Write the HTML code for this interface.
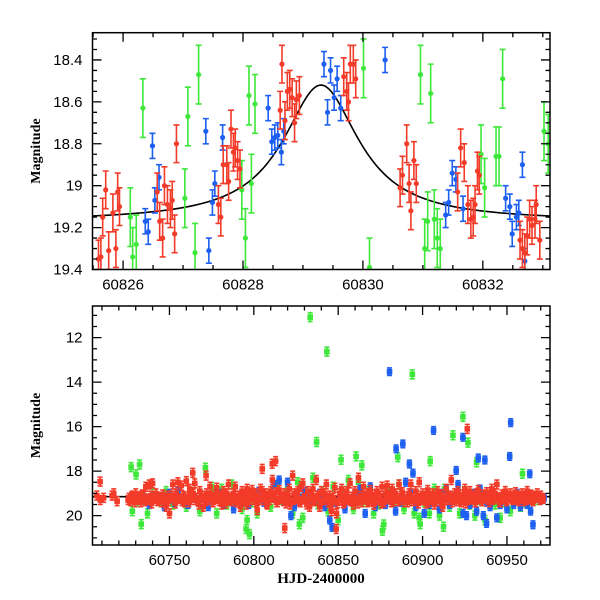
<!DOCTYPE html>
<html><head><meta charset="utf-8"><style>
body{margin:0;background:#fff}
svg{display:block}
text{font-family:"Liberation Sans",sans-serif;fill:#000}
</style></head><body>
<svg id="c" width="600" height="600" xmlns="http://www.w3.org/2000/svg"></svg>
<script>
// ---------- TOP PANEL DATA ----------
const topRedT=[60825.59,60825.63,60825.66,60825.71,60825.76,60825.83,60825.88,60825.91,60825.94,60826.57,60826.61,60826.66,60826.69,60826.74,60826.79,60826.82,60826.86,60826.89,60827.59,60827.63,60827.67,60827.73,60827.76,60827.80,60827.84,60827.87,60827.91,60827.95,60828.62,60828.65,60828.70,60828.74,60828.78,60828.82,60828.86,60828.89,60828.94,60829.68,60829.73,60829.76,60829.79,60829.84,60829.88,60830.62,60830.66,60830.73,60830.77,60830.80,60830.85,60830.89,60831.58,60831.63,60831.69,60831.75,60831.80,60831.84,60831.87,60831.91,60831.94,60832.62,60832.66,60832.70,60832.74,60832.78,60832.82,60832.87,60832.89,60832.95];
const topRedM=[19.35,19.34,19.15,19.02,19.31,19.13,19.30,19.03,19.10,19.03,19.17,19.25,19.00,19.09,19.11,19.07,19.23,18.80,19.09,19.15,18.90,18.90,18.98,18.73,18.84,18.82,18.88,18.92,18.64,18.42,18.69,18.55,18.54,18.58,18.70,18.59,18.57,18.48,18.55,18.60,18.42,18.42,18.49,19.01,18.95,18.80,18.99,19.12,18.88,18.99,19.03,18.82,18.89,19.09,19.16,19.15,19.09,18.93,18.95,19.26,19.30,19.32,19.24,19.16,19.19,19.16,19.09,19.26];
const topBlueT=[60826.37,60826.42,60826.49,60826.53,60826.60,60827.38,60827.43,60827.49,60827.53,60827.66,60828.42,60828.48,60828.53,60828.58,60828.64,60828.68,60829.35,60829.41,60829.46,60829.52,60829.57,60829.63,60830.37,60831.38,60831.43,60831.49,60831.55,60831.67,60832.38,60832.45,60832.49,60832.56,60832.60,60832.66,60832.70];
const topBlueM=[19.17,19.22,18.81,19.07,18.96,18.74,19.31,19.08,18.99,18.77,18.63,18.79,18.77,18.76,18.84,18.74,18.42,18.65,18.45,18.58,18.49,18.63,18.40,19.14,19.08,18.94,18.97,19.11,19.06,19.10,19.23,19.15,19.13,18.90,19.36];
const topGreenT=[60826.12,60826.16,60826.22,60826.33,60827.03,60827.08,60827.20,60827.26,60827.98,60828.04,60828.10,60828.14,60828.20,60830.01,60830.11,60830.96,60831.03,60831.08,60831.13,60831.19,60831.24,60831.29,60831.97,60832.03,60832.22,60832.27,60832.33,60833.02,60833.09];
const topGreenM=[19.15,19.34,19.28,18.63,19.06,18.67,19.32,18.47,19.02,19.25,18.57,18.99,18.61,18.44,19.39,18.47,19.30,19.17,18.56,19.16,19.25,19.30,18.85,19.01,18.86,18.86,18.49,18.74,18.80];
const topErr={red:0.09,blue:0.06,green:0.14};
// model curve parameters
const modelBase=19.17, modelAmp=0.65, modelT0=60829.3, modelW=0.77;
const topXTicks=[60826,60828,60830,60832];
const topYTicks=[18.4,18.6,18.8,19,19.2,19.4];
const topYLabels=["18.4","18.6","18.8","19","19.2","19.4"];

// ---------- BOTTOM PANEL DATA ----------
const botRedT=[60707,60709,60711,60716,60717,60719,60726,60727,60728,60729,60730,60731,60732,60733,60734,60735,60736,60737,60738,60739,60740,60741,60742,60743,60744,60745,60746,60747,60748,60749,60750,60751,60752,60753,60754,60755,60756,60757,60758,60759,60760,60761,60762,60763,60764,60765,60766,60767,60768,60769,60770,60771,60772,60773,60774,60775,60776,60777,60778,60779,60780,60781,60782,60783,60784,60785,60786,60787,60788,60789,60790,60791,60792,60793,60794,60795,60796,60797,60798,60799,60800,60801,60802,60803,60804,60805,60806,60807,60808,60809,60810,60811,60812,60813,60814,60815,60816,60818,60819,60820,60821,60822,60823,60824,60825,60826,60827,60828,60829,60830,60831,60832,60833,60834,60835,60836,60837,60838,60839,60840,60841,60842,60843,60844,60845,60846,60847,60848,60849,60850,60851,60852,60853,60854,60855,60856,60857,60858,60859,60860,60861,60862,60863,60864,60865,60866,60867,60868,60869,60870,60871,60872,60873,60874,60875,60876,60877,60878,60879,60880,60881,60882,60883,60884,60885,60886,60887,60888,60889,60891,60892,60893,60894,60895,60896,60897,60898,60899,60900,60901,60902,60903,60904,60905,60906,60907,60908,60909,60910,60911,60912,60913,60914,60915,60916,60917,60918,60919,60920,60921,60922,60923,60924,60925,60926,60927,60928,60929,60930,60931,60932,60933,60934,60935,60936,60937,60938,60939,60940,60941,60942,60943,60944,60945,60946,60947,60948,60949,60950,60951,60952,60953,60954,60955,60956,60957,60958,60959,60960,60961,60962,60963,60964,60965,60966,60967,60968,60969,60970,60971,60926.5,60810.9,60812.9,60805,60771.7,60763.8,60708.9,60848.8,60818.3];
const botRedM=[19.1,19.3,19.2,19.1,19.0,19.35,19.2,19.35,19.1,19.25,19.0,19.3,19.15,19.4,19.05,19.2,18.7,19.3,18.6,19.1,18.55,19.25,19.0,19.35,19.15,19.2,19.05,19.3,19.6,19.1,19.9,19.2,18.6,19.3,19.0,18.5,19.25,18.65,19.1,19.4,18.45,19.15,18.8,19.3,19.0,18.55,19.2,19.35,18.9,19.1,19.6,19.2,19.0,19.3,18.7,19.15,19.4,19.05,18.75,19.25,19.1,19.5,18.9,19.3,19.0,18.6,19.2,19.35,19.0,18.7,19.25,19.1,19.6,18.9,19.3,19.05,18.8,19.4,19.15,18.85,19.3,19.0,19.75,19.2,18.8,18.9,19.3,19.0,19.5,19.15,18.9,18.4,19.2,18.95,19.4,18.85,19.2,19.0,19.45,19.1,18.8,19.3,18.2,19.0,19.25,18.9,19.35,18.7,18.55,19.2,19.4,18.9,19.6,19.15,18.8,19.3,18.4,19.1,19.6,18.9,19.3,19.0,18.6,19.4,19.1,19.8,19.2,18.75,19.9,19.3,19.0,18.8,19.45,19.1,18.9,19.3,18.55,19.15,19.5,18.9,19.3,18.3,19.1,19.4,18.7,19.2,19.0,19.35,18.85,19.2,19.5,19.05,18.9,19.3,19.1,18.7,19.4,19.0,18.65,19.25,19.1,18.8,19.35,19.0,19.2,18.6,19.3,18.95,19.15,19.4,19.0,18.6,19.2,19.35,18.9,19.1,18.5,19.3,19.0,19.2,19.45,18.85,19.15,19.3,19.0,19.5,19.2,18.9,19.35,19.05,19.6,19.2,18.8,19.3,19.1,18.4,19.2,19.0,19.35,18.9,19.2,19.4,19.05,18.8,19.3,19.15,18.9,19.25,19.1,19.4,19.0,18.85,19.2,19.35,19.05,19.2,18.95,19.3,19.1,18.8,19.25,19.0,18.6,19.2,19.4,19.05,19.2,18.9,19.3,19.1,19.0,19.25,19.15,18.95,19.3,19.1,19.2,19.0,19.35,19.1,18.9,19.2,19.05,19.3,19.1,19.2,19.0,19.15,19.1,19.2,16.1,17.67,17.55,17.9,18.2,18.08,18.47,20.6,20.56];
const botRed2T=[60725.5,60727.5,60729.5,60731.5,60733.5,60735.5,60737.5,60739.5,60741.5,60743.5,60745.5,60747.5,60749.5,60751.5,60753.5,60755.5,60757.5,60759.5,60761.5,60763.5,60765.5,60767.5,60769.5,60771.5,60773.5,60775.5,60777.5,60779.5,60781.5,60783.5,60785.5,60787.5,60789.5,60791.5,60793.5,60795.5,60797.5,60799.5,60801.5,60803.5,60805.5,60807.5,60809.5,60811.5,60813.5,60815.5,60817.5,60819.5,60821.5,60823.5,60825.5,60827.5,60829.5,60831.5,60833.5,60835.5,60837.5,60839.5,60841.5,60843.5,60845.5,60847.5,60849.5,60851.5,60853.5,60855.5,60857.5,60859.5,60861.5,60863.5,60865.5,60867.5,60869.5,60871.5,60873.5,60875.5,60877.5,60879.5,60881.5,60883.5,60885.5,60887.5,60889.5,60891.5,60893.5,60895.5,60897.5,60899.5,60901.5,60903.5,60905.5,60907.5,60909.5,60911.5,60913.5,60915.5,60917.5,60919.5,60921.5,60923.5,60925.5,60927.5,60929.5,60931.5,60933.5,60935.5,60937.5,60939.5,60941.5,60943.5,60945.5,60947.5,60949.5,60951.5,60953.5,60955.5,60957.5,60959.5,60961.5,60963.5,60965.5,60967.5,60969.5,60971.5];
const botRed2M=[19.3,19.15,19.4,19.2,19.1,19.35,19.25,19.45,19.15,19.3,19.4,19.2,19.35,19.1,19.45,19.25,19.35,19.15,19.4,19.2,19.3,19.5,19.2,19.35,19.1,19.4,19.25,19.35,19.2,19.45,19.3,19.15,19.4,19.2,19.35,19.5,19.25,19.1,19.4,19.3,19.2,19.45,19.3,19.15,19.4,19.25,19.35,19.2,19.5,19.3,19.15,19.4,19.25,19.5,19.2,19.35,19.1,19.45,19.3,19.2,19.55,19.3,19.45,19.15,19.4,19.25,19.35,19.2,19.45,19.3,19.15,19.4,19.25,19.35,19.2,19.45,19.3,19.15,19.4,19.25,19.35,19.1,19.4,19.25,19.35,19.2,19.45,19.3,19.15,19.4,19.25,19.35,19.2,19.45,19.3,19.15,19.4,19.25,19.35,19.2,19.45,19.3,19.15,19.4,19.25,19.35,19.2,19.4,19.3,19.15,19.4,19.25,19.35,19.2,19.3,19.25,19.35,19.2,19.3,19.25,19.35,19.2,19.3,19.25];
const botBlueT=[60735,60738,60741,60744,60747,60750,60753,60755,60758,60761,60764,60767,60770,60773,60776,60779,60782,60785,60788,60791,60794,60797,60800,60803,60806,60809,60812,60815,60818,60820,60822,60824,60827,60830,60833,60836,60839,60842,60845,60848,60851,60854,60857,60860,60863,60866,60869,60872,60875,60878,60881,60884,60887,60890,60893,60896,60899,60901,60904,60907,60910,60912,60914,60916,60918,60921,60924,60926,60928,60930,60932,60934,60936,60938,60940,60942,60944,60946,60948,60950,60952,60954,60956,60958,60960,60962,60964,60966,60968,60970,60972,60880.4,60952.2,60906.5,60923.9,60884.3,60888.3,60951.6,60892.2,60933,60936.9,60919.9,60963.5,60894.3,60846.4,60965.4,60937.9];
const botBlueM=[19.2,19.5,19.1,19.3,19.6,19.0,19.4,18.9,19.3,19.5,19.1,19.4,19.2,19.6,19.3,19.0,19.5,19.2,19.7,19.3,19.1,19.5,19.2,18.9,19.4,19.1,18.6,18.4,19.3,18.5,20.0,19.6,19.2,18.9,19.5,19.3,19.0,19.6,20.2,19.4,19.1,19.7,19.3,19.0,18.8,19.9,18.7,19.6,19.2,19.5,19.1,19.8,19.4,18.5,19.0,19.6,19.3,19.9,19.5,19.1,19.7,19.0,18.8,19.5,19.3,18.6,19.9,20.0,19.5,19.0,19.8,18.8,20.0,19.4,19.6,19.1,20.1,19.5,19.3,19.7,19.2,19.5,19.0,19.6,19.3,19.5,19.8,19.2,19.1,19.3,19.2,13.53,15.82,16.17,16.48,17.0,16.78,17.34,17.68,17.41,17.5,17.97,18.12,18.09,20.53,20.41,20.35];
const botGreenT=[60728,60731,60734,60737,60740,60745,60748,60752,60756,60760,60764,60768,60772,60775,60778,60781,60784,60787,60790,60793,60796,60799,60802,60806,60810,60814,60817,60820,60823,60826,60829,60832,60835,60838,60841,60844,60847,60850,60853,60856,60859,60862,60865,60868,60871,60874,60877,60880,60883,60886,60889,60892,60895,60898,60901,60904,60907,60910,60913,60916,60919,60922,60925,60928,60931,60934,60937,60940,60943,60946,60949,60952,60955,60958,60961,60964,60967,60833.4,60843.3,60893.9,60923.9,60918,60926.9,60837.2,60885.3,60904.5,60932,60851.7,60860.6,60727.3,60732.3,60730.2,60771.3,60864,60959.2,60797.4,60733.3,60876.2,60898.6,60912.4,60795.4,60827];
const botGreenM=[19.8,19.4,19.3,19.9,19.0,19.4,18.9,19.5,19.2,19.6,19.0,19.8,19.3,18.7,19.9,18.8,19.5,18.6,19.3,19.7,20.2,19.4,19.9,19.1,19.6,18.7,19.3,18.8,19.9,18.5,20.1,19.2,18.3,19.5,18.9,19.8,18.7,20.2,18.9,18.4,19.7,18.5,19.4,18.9,19.9,19.5,20.4,18.9,19.4,18.6,19.7,19.2,19.9,20.1,19.4,19.9,18.8,20.0,18.8,19.6,19.2,19.9,18.9,19.5,20.0,19.3,20.2,19.1,19.5,20.1,19.4,19.8,19.2,19.6,19.4,19.1,19.3,11.08,12.63,13.65,15.56,16.39,16.72,16.69,17.37,17.55,17.6,17.49,17.34,17.82,17.7,18.15,17.85,17.74,18.12,20.83,20.38,20.68,20.38,20.5,20.6,20.38];
const botErr={red:0.2,blue:0.17,green:0.2};
const botModel=19.15;
const botXTicks=[60750,60800,60850,60900,60950];
const botYTicks=[12,14,16,18,20];

// ---------- RENDER ----------
const NS="http://www.w3.org/2000/svg";
const svg=document.getElementById('c');
const COL={red:'#f33b29',blue:'#1d5ff0',green:'#3ee83a'};
function mk(tag,attrs,parent){const e=document.createElementNS(NS,tag);for(const k in attrs)e.setAttribute(k,attrs[k]);(parent||svg).appendChild(e);return e;}

function panel(cfg){
  const g=mk('g',{});
  
  
  const {L,R,T,B,x0,x1,y0,y1}=cfg;
  const sx=t=>L+(t-x0)/(x1-x0)*(R-L);
  const sy=m=>T+(m-y0)/(y1-y0)*(B-T);
  const clip='clip-'+cfg.name;
  const cp=mk('clipPath',{id:clip},g);mk('rect',{x:L,y:T,width:R-L,height:B-T},cp);
  const plot=mk('g',{'clip-path':'url(#'+clip+')'},g);
  
  
  if(cfg.model){const d=cfg.model(sx,sy);const p=mk('path',{d:d,fill:'none',stroke:'#000','stroke-width':1.6},plot);
    
    }
  for(const s of cfg.series){
    const sg=mk('g',{},plot);
    
    
    for(let i=0;i<s.t.length;i++){
      const x=sx(s.t[i]),y=sy(s.m[i]),e=s.err*(B-T)/(y1-y0);
      const pg=mk('g',{},sg);
      
      
      const c=COL[s.key];
      mk('path',{d:`M${x},${y-e}V${y+e}M${x-cfg.cap},${y-e}h${2*cfg.cap}M${x-cfg.cap},${y+e}h${2*cfg.cap}`,stroke:c,'stroke-width':1.6,fill:'none'},pg);
      if(cfg.square) mk('rect',{x:x-2.8,y:y-2.8,width:5.6,height:5.6,fill:c},pg);
      else mk('circle',{cx:x,cy:y,r:2.6,fill:c},pg);
    }
  }
  const fr=mk('rect',{x:L,y:T,width:R-L,height:B-T,fill:'none',stroke:'#000','stroke-width':1.5},g);
  
  
  let d='';
  for(let t=cfg.xMinorStart;t<=x1;t+=cfg.xMinor){const x=sx(t);if(x<L||x>R)continue;
    const major=Math.abs(((t-cfg.xMajorRef)/cfg.xMajor)-Math.round((t-cfg.xMajorRef)/cfg.xMajor))<1e-6;const l=major?9:4.5;
    d+=`M${x},${B}v${-l}M${x},${T}v${l}`;}
  for(let m=cfg.yMinorStart;m<=y1+1e-9;m+=cfg.yMinor){const y=sy(m);if(y<T-0.1||y>B+0.1)continue;
    const major=Math.abs(((m-cfg.yMajorRef)/cfg.yMajor)-Math.round((m-cfg.yMajorRef)/cfg.yMajor))<1e-6;const l=major?9:4.5;
    d+=`M${L},${y}h${l}M${R},${y}h${-l}`;}
  const tk=mk('path',{d:d,stroke:'#000','stroke-width':1.3,fill:'none'},g);
  
  
  cfg.xTicks.forEach(t=>{const tx=mk('text',{x:sx(t),y:B+20,'text-anchor':'middle','font-size':15},g);tx.textContent=String(t);
    
    });
  cfg.yTicks.forEach((m,i)=>{const tx=mk('text',{x:L-10,y:sy(m)+5,'text-anchor':'end','font-size':15},g);tx.textContent=cfg.yLabels?cfg.yLabels[i]:String(m);
    
    });
  const yl=mk('text',{x:0,y:0,transform:`translate(40,${(T+B)/2}) rotate(-90)`,'text-anchor':'middle','font-size':14,'font-weight':'bold',style:'font-family:"Liberation Serif",serif'},g);
  yl.textContent='Magnitude';
  
  
}

panel({name:'zoom-panel',L:92.5,R:550,T:32.7,B:269.5,x0:60825.49,x1:60833.12,y0:18.27,y1:19.4,cap:3,square:false,
  xTicks:topXTicks,yTicks:topYTicks,yLabels:topYLabels,xMinor:0.5,xMinorStart:60825.5,xMajor:2,xMajorRef:60826,
  yMinor:0.05,yMinorStart:18.3,yMajor:0.2,yMajorRef:18.4,
  model:(sx,sy)=>{let d='';for(let t=60825.4;t<=60833.2;t+=0.02){const m=modelBase-modelAmp/(1+Math.pow((t-modelT0)/modelW,2));d+=(d?'L':'M')+sx(t).toFixed(2)+','+sy(m).toFixed(2);}return d;},
  series:[{key:'green',t:topGreenT,m:topGreenM,err:topErr.green},{key:'blue',t:topBlueT,m:topBlueM,err:topErr.blue},{key:'red',t:topRedT,m:topRedM,err:topErr.red}]});

panel({name:'full-panel',L:92.5,R:550,T:306,B:545,x0:60704.4,x1:60975.5,y0:10.58,y1:21.32,cap:2.5,square:true,
  xTicks:botXTicks,yTicks:botYTicks,xMinor:10,xMinorStart:60710,xMajor:50,xMajorRef:60750,
  yMinor:0.5,yMinorStart:11,yMajor:2,yMajorRef:12,
  model:(sx,sy)=>`M${sx(60704)},${sy(botModel)}H${sx(60976)}`,
  series:[{key:'green',t:botGreenT,m:botGreenM,err:botErr.green},{key:'blue',t:botBlueT,m:botBlueM,err:botErr.blue},{key:'red',t:botRedT,m:botRedM,err:botErr.red},{key:'red',t:botRed2T,m:botRed2M,err:botErr.red}]});

const xl=mk('text',{x:321,y:583,'text-anchor':'middle','font-size':15,'font-weight':'bold',style:'font-family:"Liberation Serif",serif'});
xl.textContent='HJD-2400000';


</script>
</body></html>
